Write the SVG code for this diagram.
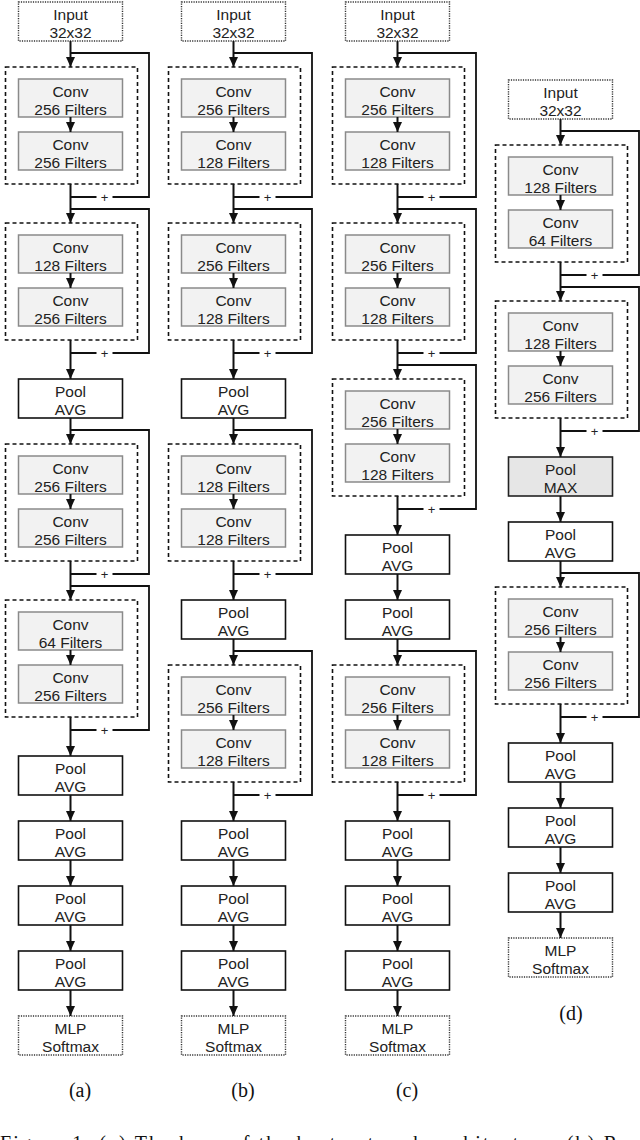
<svg xmlns="http://www.w3.org/2000/svg" width="640" height="1140" viewBox="0 0 640 1140">
<defs>
<marker id="ah" markerUnits="userSpaceOnUse" markerWidth="10" markerHeight="10" refX="10" refY="5" orient="auto">
<path d="M0,0.5 L10,5 L0,9.5 z" fill="#111"/>
</marker>
<style>
.t{font-family:"Liberation Sans",Arial,sans-serif;font-size:15.5px;fill:#222;text-anchor:middle}
.pl{font-family:"Liberation Sans",Arial,sans-serif;font-size:13px;fill:#222;text-anchor:middle}
.lab{font-family:"Liberation Serif","Times New Roman",serif;font-size:20px;fill:#111;text-anchor:middle}
.cap{font-family:"Liberation Serif","Times New Roman",serif;font-size:20px;fill:#111}
.blk{fill:#fff;stroke:#111;stroke-width:1.6;stroke-dasharray:4 3}
.conv{fill:#f2f2f2;stroke:#8a8a8a;stroke-width:1.5}
.box{fill:#fff;stroke:#111;stroke-width:1.6}
.mx{fill:#e6e6e6;stroke:#222;stroke-width:1.6}
.io{fill:#fff;stroke:#333;stroke-width:1.4;stroke-dasharray:1.2 1.2}
.ar{stroke:#111;stroke-width:2;fill:none;marker-end:url(#ah)}
.sk{stroke:#111;stroke-width:1.8;fill:none}
</style>
</defs>

<!-- ===== Column (a) ===== -->
<g id="a-input"><rect class="io" x="18.5" y="2" width="104" height="39"/><text class="t" x="70.5" y="20">Input</text><text class="t" x="70.5" y="38">32x32</text></g>
<g id="a-block1"><rect class="blk" x="5.5" y="67" width="132" height="117"/>
<rect class="conv" x="18.5" y="79" width="104" height="38"/><text class="t" x="70.5" y="97">Conv</text><text class="t" x="70.5" y="115">256 Filters</text>
<rect class="conv" x="18.5" y="132" width="104" height="38"/><text class="t" x="70.5" y="150">Conv</text><text class="t" x="70.5" y="168">256 Filters</text></g>
<g id="a-block2"><rect class="blk" x="5.5" y="223" width="132" height="117"/>
<rect class="conv" x="18.5" y="235" width="104" height="38"/><text class="t" x="70.5" y="253">Conv</text><text class="t" x="70.5" y="271">128 Filters</text>
<rect class="conv" x="18.5" y="288" width="104" height="38"/><text class="t" x="70.5" y="306">Conv</text><text class="t" x="70.5" y="324">256 Filters</text></g>
<g id="a-pool1"><rect class="box" x="18.5" y="379" width="104" height="39"/><text class="t" x="70.5" y="397">Pool</text><text class="t" x="70.5" y="415">AVG</text></g>
<g id="a-block3"><rect class="blk" x="5.5" y="444" width="132" height="117"/>
<rect class="conv" x="18.5" y="456" width="104" height="38"/><text class="t" x="70.5" y="474">Conv</text><text class="t" x="70.5" y="492">256 Filters</text>
<rect class="conv" x="18.5" y="509" width="104" height="38"/><text class="t" x="70.5" y="527">Conv</text><text class="t" x="70.5" y="545">256 Filters</text></g>
<g id="a-block4"><rect class="blk" x="5.5" y="600" width="132" height="117"/>
<rect class="conv" x="18.5" y="612" width="104" height="38"/><text class="t" x="70.5" y="630">Conv</text><text class="t" x="70.5" y="648">64 Filters</text>
<rect class="conv" x="18.5" y="665" width="104" height="38"/><text class="t" x="70.5" y="683">Conv</text><text class="t" x="70.5" y="701">256 Filters</text></g>
<g id="a-pool2"><rect class="box" x="18.5" y="756" width="104" height="39"/><text class="t" x="70.5" y="774">Pool</text><text class="t" x="70.5" y="792">AVG</text></g>
<g id="a-pool3"><rect class="box" x="18.5" y="821" width="104" height="39"/><text class="t" x="70.5" y="839">Pool</text><text class="t" x="70.5" y="857">AVG</text></g>
<g id="a-pool4"><rect class="box" x="18.5" y="886" width="104" height="39"/><text class="t" x="70.5" y="904">Pool</text><text class="t" x="70.5" y="922">AVG</text></g>
<g id="a-pool5"><rect class="box" x="18.5" y="951" width="104" height="39"/><text class="t" x="70.5" y="969">Pool</text><text class="t" x="70.5" y="987">AVG</text></g>
<g id="a-mlp"><rect class="io" x="18.5" y="1016" width="104" height="39"/><text class="t" x="70.5" y="1034">MLP</text><text class="t" x="70.5" y="1052">Softmax</text></g>

<!-- ===== Column (b) ===== -->
<g id="b-input"><rect class="io" x="181.5" y="2" width="104" height="39"/><text class="t" x="233.5" y="20">Input</text><text class="t" x="233.5" y="38">32x32</text></g>
<g id="b-block1"><rect class="blk" x="168.5" y="67" width="132" height="117"/>
<rect class="conv" x="181.5" y="79" width="104" height="38"/><text class="t" x="233.5" y="97">Conv</text><text class="t" x="233.5" y="115">256 Filters</text>
<rect class="conv" x="181.5" y="132" width="104" height="38"/><text class="t" x="233.5" y="150">Conv</text><text class="t" x="233.5" y="168">128 Filters</text></g>
<g id="b-block2"><rect class="blk" x="168.5" y="223" width="132" height="117"/>
<rect class="conv" x="181.5" y="235" width="104" height="38"/><text class="t" x="233.5" y="253">Conv</text><text class="t" x="233.5" y="271">256 Filters</text>
<rect class="conv" x="181.5" y="288" width="104" height="38"/><text class="t" x="233.5" y="306">Conv</text><text class="t" x="233.5" y="324">128 Filters</text></g>
<g id="b-pool1"><rect class="box" x="181.5" y="379" width="104" height="39"/><text class="t" x="233.5" y="397">Pool</text><text class="t" x="233.5" y="415">AVG</text></g>
<g id="b-block3"><rect class="blk" x="168.5" y="444" width="132" height="117"/>
<rect class="conv" x="181.5" y="456" width="104" height="38"/><text class="t" x="233.5" y="474">Conv</text><text class="t" x="233.5" y="492">128 Filters</text>
<rect class="conv" x="181.5" y="509" width="104" height="38"/><text class="t" x="233.5" y="527">Conv</text><text class="t" x="233.5" y="545">128 Filters</text></g>
<g id="b-pool2"><rect class="box" x="181.5" y="600" width="104" height="39"/><text class="t" x="233.5" y="618">Pool</text><text class="t" x="233.5" y="636">AVG</text></g>
<g id="b-block4"><rect class="blk" x="168.5" y="665" width="132" height="117"/>
<rect class="conv" x="181.5" y="677" width="104" height="38"/><text class="t" x="233.5" y="695">Conv</text><text class="t" x="233.5" y="713">256 Filters</text>
<rect class="conv" x="181.5" y="730" width="104" height="38"/><text class="t" x="233.5" y="748">Conv</text><text class="t" x="233.5" y="766">128 Filters</text></g>
<g id="b-pool3"><rect class="box" x="181.5" y="821" width="104" height="39"/><text class="t" x="233.5" y="839">Pool</text><text class="t" x="233.5" y="857">AVG</text></g>
<g id="b-pool4"><rect class="box" x="181.5" y="886" width="104" height="39"/><text class="t" x="233.5" y="904">Pool</text><text class="t" x="233.5" y="922">AVG</text></g>
<g id="b-pool5"><rect class="box" x="181.5" y="951" width="104" height="39"/><text class="t" x="233.5" y="969">Pool</text><text class="t" x="233.5" y="987">AVG</text></g>
<g id="b-mlp"><rect class="io" x="181.5" y="1016" width="104" height="39"/><text class="t" x="233.5" y="1034">MLP</text><text class="t" x="233.5" y="1052">Softmax</text></g>

<!-- ===== Column (c) ===== -->
<g id="c-input"><rect class="io" x="345.5" y="2" width="104" height="39"/><text class="t" x="397.5" y="20">Input</text><text class="t" x="397.5" y="38">32x32</text></g>
<g id="c-block1"><rect class="blk" x="332.5" y="67" width="132" height="117"/>
<rect class="conv" x="345.5" y="79" width="104" height="38"/><text class="t" x="397.5" y="97">Conv</text><text class="t" x="397.5" y="115">256 Filters</text>
<rect class="conv" x="345.5" y="132" width="104" height="38"/><text class="t" x="397.5" y="150">Conv</text><text class="t" x="397.5" y="168">128 Filters</text></g>
<g id="c-block2"><rect class="blk" x="332.5" y="223" width="132" height="117"/>
<rect class="conv" x="345.5" y="235" width="104" height="38"/><text class="t" x="397.5" y="253">Conv</text><text class="t" x="397.5" y="271">256 Filters</text>
<rect class="conv" x="345.5" y="288" width="104" height="38"/><text class="t" x="397.5" y="306">Conv</text><text class="t" x="397.5" y="324">128 Filters</text></g>
<g id="c-block3"><rect class="blk" x="332.5" y="379" width="132" height="117"/>
<rect class="conv" x="345.5" y="391" width="104" height="38"/><text class="t" x="397.5" y="409">Conv</text><text class="t" x="397.5" y="427">256 Filters</text>
<rect class="conv" x="345.5" y="444" width="104" height="38"/><text class="t" x="397.5" y="462">Conv</text><text class="t" x="397.5" y="480">128 Filters</text></g>
<g id="c-pool1"><rect class="box" x="345.5" y="535" width="104" height="39"/><text class="t" x="397.5" y="553">Pool</text><text class="t" x="397.5" y="571">AVG</text></g>
<g id="c-pool2"><rect class="box" x="345.5" y="600" width="104" height="39"/><text class="t" x="397.5" y="618">Pool</text><text class="t" x="397.5" y="636">AVG</text></g>
<g id="c-block4"><rect class="blk" x="332.5" y="665" width="132" height="117"/>
<rect class="conv" x="345.5" y="677" width="104" height="38"/><text class="t" x="397.5" y="695">Conv</text><text class="t" x="397.5" y="713">256 Filters</text>
<rect class="conv" x="345.5" y="730" width="104" height="38"/><text class="t" x="397.5" y="748">Conv</text><text class="t" x="397.5" y="766">128 Filters</text></g>
<g id="c-pool3"><rect class="box" x="345.5" y="821" width="104" height="39"/><text class="t" x="397.5" y="839">Pool</text><text class="t" x="397.5" y="857">AVG</text></g>
<g id="c-pool4"><rect class="box" x="345.5" y="886" width="104" height="39"/><text class="t" x="397.5" y="904">Pool</text><text class="t" x="397.5" y="922">AVG</text></g>
<g id="c-pool5"><rect class="box" x="345.5" y="951" width="104" height="39"/><text class="t" x="397.5" y="969">Pool</text><text class="t" x="397.5" y="987">AVG</text></g>
<g id="c-mlp"><rect class="io" x="345.5" y="1016" width="104" height="39"/><text class="t" x="397.5" y="1034">MLP</text><text class="t" x="397.5" y="1052">Softmax</text></g>

<!-- ===== Column (d) ===== -->
<g id="d-input"><rect class="io" x="508.5" y="80" width="104" height="39"/><text class="t" x="560.5" y="98">Input</text><text class="t" x="560.5" y="116">32x32</text></g>
<g id="d-block1"><rect class="blk" x="495.5" y="145" width="132" height="117"/>
<rect class="conv" x="508.5" y="157" width="104" height="38"/><text class="t" x="560.5" y="175">Conv</text><text class="t" x="560.5" y="193">128 Filters</text>
<rect class="conv" x="508.5" y="210" width="104" height="38"/><text class="t" x="560.5" y="228">Conv</text><text class="t" x="560.5" y="246">64 Filters</text></g>
<g id="d-block2"><rect class="blk" x="495.5" y="301" width="132" height="117"/>
<rect class="conv" x="508.5" y="313" width="104" height="38"/><text class="t" x="560.5" y="331">Conv</text><text class="t" x="560.5" y="349">128 Filters</text>
<rect class="conv" x="508.5" y="366" width="104" height="38"/><text class="t" x="560.5" y="384">Conv</text><text class="t" x="560.5" y="402">256 Filters</text></g>
<g id="d-poolmax"><rect class="mx" x="508.5" y="457" width="104" height="39"/><text class="t" x="560.5" y="475">Pool</text><text class="t" x="560.5" y="493">MAX</text></g>
<g id="d-pool1"><rect class="box" x="508.5" y="522" width="104" height="39"/><text class="t" x="560.5" y="540">Pool</text><text class="t" x="560.5" y="558">AVG</text></g>
<g id="d-block3"><rect class="blk" x="495.5" y="587" width="132" height="117"/>
<rect class="conv" x="508.5" y="599" width="104" height="38"/><text class="t" x="560.5" y="617">Conv</text><text class="t" x="560.5" y="635">256 Filters</text>
<rect class="conv" x="508.5" y="652" width="104" height="38"/><text class="t" x="560.5" y="670">Conv</text><text class="t" x="560.5" y="688">256 Filters</text></g>
<g id="d-pool2"><rect class="box" x="508.5" y="743" width="104" height="39"/><text class="t" x="560.5" y="761">Pool</text><text class="t" x="560.5" y="779">AVG</text></g>
<g id="d-pool3"><rect class="box" x="508.5" y="808" width="104" height="39"/><text class="t" x="560.5" y="826">Pool</text><text class="t" x="560.5" y="844">AVG</text></g>
<g id="d-pool4"><rect class="box" x="508.5" y="873" width="104" height="39"/><text class="t" x="560.5" y="891">Pool</text><text class="t" x="560.5" y="909">AVG</text></g>
<g id="d-mlp"><rect class="io" x="508.5" y="938" width="104" height="39"/><text class="t" x="560.5" y="956">MLP</text><text class="t" x="560.5" y="974">Softmax</text></g>

<!-- ===== Connectors ===== -->
<g id="connectors">
<!-- column a -->
<path class="ar" d="M70.5,41V67"/><path class="ar" d="M70.5,117V132"/>
<path class="ar" d="M70.5,184V223"/><path class="ar" d="M70.5,273V288"/>
<path class="ar" d="M70.5,340V379"/><path class="ar" d="M70.5,418V444"/>
<path class="ar" d="M70.5,494V509"/><path class="ar" d="M70.5,561V600"/>
<path class="ar" d="M70.5,650V665"/><path class="ar" d="M70.5,717V756"/>
<path class="ar" d="M70.5,795V821"/><path class="ar" d="M70.5,860V886"/>
<path class="ar" d="M70.5,925V951"/><path class="ar" d="M70.5,990V1016"/>
<path class="sk" d="M70.5,53H149V197H112.5M96.5,197H70.5"/>
<path class="sk" d="M70.5,209H149V353H112.5M96.5,353H70.5"/>
<path class="sk" d="M70.5,430H149V574H112.5M96.5,574H70.5"/>
<path class="sk" d="M70.5,586H149V730H112.5M96.5,730H70.5"/>
<!-- column b -->
<path class="ar" d="M233.5,41V67"/><path class="ar" d="M233.5,117V132"/>
<path class="ar" d="M233.5,184V223"/><path class="ar" d="M233.5,273V288"/>
<path class="ar" d="M233.5,340V379"/><path class="ar" d="M233.5,418V444"/>
<path class="ar" d="M233.5,494V509"/><path class="ar" d="M233.5,561V600"/>
<path class="ar" d="M233.5,639V665"/><path class="ar" d="M233.5,715V730"/>
<path class="ar" d="M233.5,782V821"/><path class="ar" d="M233.5,860V886"/>
<path class="ar" d="M233.5,925V951"/><path class="ar" d="M233.5,990V1016"/>
<path class="sk" d="M233.5,53H312V197H275.5M259.5,197H233.5"/>
<path class="sk" d="M233.5,209H312V353H275.5M259.5,353H233.5"/>
<path class="sk" d="M233.5,430H312V574H275.5M259.5,574H233.5"/>
<path class="sk" d="M233.5,651H312V795H275.5M259.5,795H233.5"/>
<!-- column c -->
<path class="ar" d="M397.5,41V67"/><path class="ar" d="M397.5,117V132"/>
<path class="ar" d="M397.5,184V223"/><path class="ar" d="M397.5,273V288"/>
<path class="ar" d="M397.5,340V379"/><path class="ar" d="M397.5,429V444"/>
<path class="ar" d="M397.5,496V535"/><path class="ar" d="M397.5,574V600"/>
<path class="ar" d="M397.5,639V665"/><path class="ar" d="M397.5,715V730"/>
<path class="ar" d="M397.5,782V821"/><path class="ar" d="M397.5,860V886"/>
<path class="ar" d="M397.5,925V951"/><path class="ar" d="M397.5,990V1016"/>
<path class="sk" d="M397.5,53H476V197H439.5M423.5,197H397.5"/>
<path class="sk" d="M397.5,209H476V353H439.5M423.5,353H397.5"/>
<path class="sk" d="M397.5,365H476V509H439.5M423.5,509H397.5"/>
<path class="sk" d="M397.5,651H476V795H439.5M423.5,795H397.5"/>
<!-- column d -->
<path class="ar" d="M560.5,119V145"/><path class="ar" d="M560.5,195V210"/>
<path class="ar" d="M560.5,262V301"/><path class="ar" d="M560.5,351V366"/>
<path class="ar" d="M560.5,418V457"/><path class="ar" d="M560.5,496V522"/>
<path class="ar" d="M560.5,561V587"/><path class="ar" d="M560.5,637V652"/>
<path class="ar" d="M560.5,704V743"/><path class="ar" d="M560.5,782V808"/>
<path class="ar" d="M560.5,847V873"/><path class="ar" d="M560.5,912V938"/>
<path class="sk" d="M560.5,131H639V275H602.5M586.5,275H560.5"/>
<path class="sk" d="M560.5,287H639V431H602.5M586.5,431H560.5"/>
<path class="sk" d="M560.5,573H639V717H602.5M586.5,717H560.5"/>
<!-- plus signs -->
<text class="pl" x="104.5" y="201.5">+</text><text class="pl" x="104.5" y="357.5">+</text>
<text class="pl" x="104.5" y="578.5">+</text><text class="pl" x="104.5" y="734.5">+</text>
<text class="pl" x="267.5" y="201.5">+</text><text class="pl" x="267.5" y="357.5">+</text>
<text class="pl" x="267.5" y="578.5">+</text><text class="pl" x="267.5" y="799.5">+</text>
<text class="pl" x="431.5" y="201.5">+</text><text class="pl" x="431.5" y="357.5">+</text>
<text class="pl" x="431.5" y="513.5">+</text><text class="pl" x="431.5" y="799.5">+</text>
<text class="pl" x="594.5" y="279.5">+</text><text class="pl" x="594.5" y="435.5">+</text>
<text class="pl" x="594.5" y="721.5">+</text>
</g>

<!-- labels -->
<text class="lab" x="80" y="1097">(a)</text>
<text class="lab" x="243" y="1097">(b)</text>
<text class="lab" x="407" y="1097">(c)</text>
<text class="lab" x="571" y="1020">(d)</text>
<text class="cap" x="0" y="1150" textLength="628" lengthAdjust="spacing">Figure 1: (a) The base of the best network architecture. (b) Re</text>
</svg>
